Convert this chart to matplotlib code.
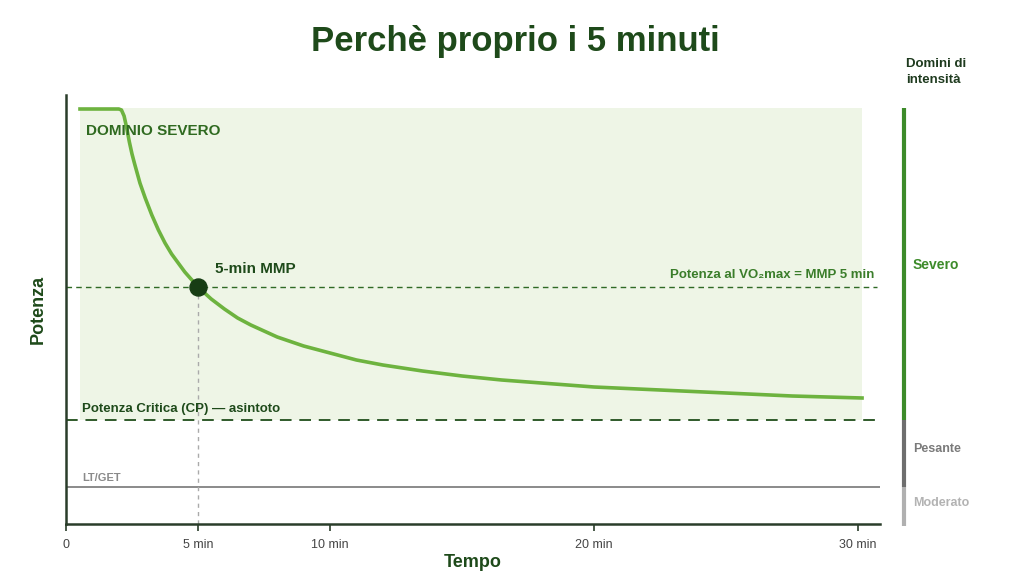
import matplotlib.pyplot as plt
import matplotlib.transforms as mtransforms

plt.rcParams['font.family'] = ['Liberation Sans', 'DejaVu Sans']

# Curva potenza-durata (minuti, potenza in unità arbitrarie)
tempo = [0.53, 1.5, 2.0, 2.1, 2.2, 2.3, 2.4, 2.5, 2.6, 2.8, 3.0, 3.25, 3.5,
         3.75, 4.0, 4.5, 5.0, 5.5, 6.0, 6.5, 7.0, 7.5, 8.0, 9.0, 10.0, 11.0,
         12.0, 13.5, 15.0, 16.5, 18.0, 20.0, 22.5, 25.0, 27.5, 30.15]
potenza = [415, 415, 415, 414, 408, 396, 382, 370, 360, 341, 326, 309, 294,
           281, 270, 252, 237, 225, 215, 206, 199, 193, 187, 178, 171, 164,
           159, 153, 148, 144, 141, 137, 134, 131, 128, 126]

cp = 104          # Potenza Critica
vo2max = 237      # Potenza al VO2max = MMP 5 min
lt = 37           # LT/GET
top_severo = 416
mmp_t = 5

xticks = [0, 5, 10, 20, 30]
xtick_labels = ['0', '5 min', '10 min', '20 min', '30 min']

domini = ['Severo', 'Pesante', 'Moderato']
dom_lim = [(cp, top_severo), (lt, cp), (-2, lt)]
dom_col = ['#3d8b2a', '#6e6e6e', '#b0b0b0']
dom_txt = ['#3d8b2a', '#7a7a7a', '#b3b3b3']

dark = '#1e4a1a'
green = '#6db33f'

fig = plt.figure(figsize=(10.24, 5.76), dpi=100)
ax = fig.add_axes([66 / 1024, 52 / 576, 814 / 1024, 429 / 576])
ax.set_xlim(0, 30.83)
ax.set_ylim(0, 429)

# zona severa
ax.fill_between([tempo[0], tempo[-1]], cp, top_severo, color='#eef5e6', lw=0, zorder=0)

ax.axhline(vo2max, xmax=30.7 / 30.83, color='#2f6a25', ls=(0, (4, 3)), lw=1.0, zorder=2)
ax.axhline(cp, color='#2f5a2a', ls=(0, (6, 4)), lw=1.4, zorder=2)
ax.axhline(lt, color='#777777', lw=1.2, zorder=2)
ax.plot([mmp_t, mmp_t], [0, vo2max], color='#aaaaaa', ls=(0, (3, 3)), lw=1.0, zorder=2)

ax.plot(tempo, potenza, color=green, lw=2.6, solid_joinstyle='round', zorder=3)
ax.scatter([mmp_t], [vo2max], s=150, color='#173d14', zorder=4)

ax.text(0.76, 393, 'DOMINIO SEVERO', color='#2f6a20', fontsize=11, fontweight='bold', va='center')
ax.text(5.64, 255, '5-min MMP', color=dark, fontsize=11, fontweight='bold', va='center')
ax.text(30.6, 249, 'Potenza al VO₂max = MMP 5 min', color='#3a7d2a', fontsize=9.5,
        fontweight='bold', ha='right', va='center')
ax.text(0.6, 115, 'Potenza Critica (CP) — asintoto', color=dark, fontsize=9.5,
        fontweight='bold', va='center')
ax.text(0.6, 46, 'LT/GET', color='#8a8a8a', fontsize=8, fontweight='bold', va='center')

for s in ['top', 'right']:
    ax.spines[s].set_visible(False)
for s in ['left', 'bottom']:
    ax.spines[s].set_color('#2a3d2a')
    ax.spines[s].set_linewidth(1.8)
ax.set_yticks([])
ax.set_xticks(xticks)
ax.set_xticklabels(xtick_labels, fontsize=9, color='#444444')
ax.tick_params(axis='x', length=5, width=1.2, color='#2a3d2a', pad=6)

ax.set_xlabel('Tempo', fontsize=13, fontweight='bold', color=dark, labelpad=2)
ax.set_ylabel('Potenza', fontsize=13, fontweight='bold', color=dark, labelpad=14)

# barra domini a destra
trans = mtransforms.blended_transform_factory(fig.transFigure, ax.transData)
bx = 904 / 1024
for nome, (lo, hi), c, tc in zip(domini, dom_lim, dom_col, dom_txt):
    ax.plot([bx, bx], [lo, hi], color=c, lw=3, transform=trans, clip_on=False,
            solid_capstyle='butt')
ax.text(913 / 1024, 259, 'Severo', color=dom_txt[0], fontsize=10, fontweight='bold',
        va='center', transform=trans)
ax.text(913 / 1024, 75, 'Pesante', color=dom_txt[1], fontsize=9, fontweight='bold',
        va='center', transform=trans)
ax.text(913 / 1024, 21, 'Moderato', color=dom_txt[2], fontsize=9, fontweight='bold',
        va='center', transform=trans)
fig.text(906 / 1024, 1 - 72 / 576, 'Domini di\nintensità', color='#1e3a1e', fontsize=9.5,
         fontweight='bold', va='center', ha='left', linespacing=1.35)

fig.text(0.503, 1 - 42 / 576, 'Perchè proprio i 5 minuti', color=dark, fontsize=25,
         fontweight='bold', ha='center', va='center')

fig.savefig('out.png', dpi=100, facecolor='white')
